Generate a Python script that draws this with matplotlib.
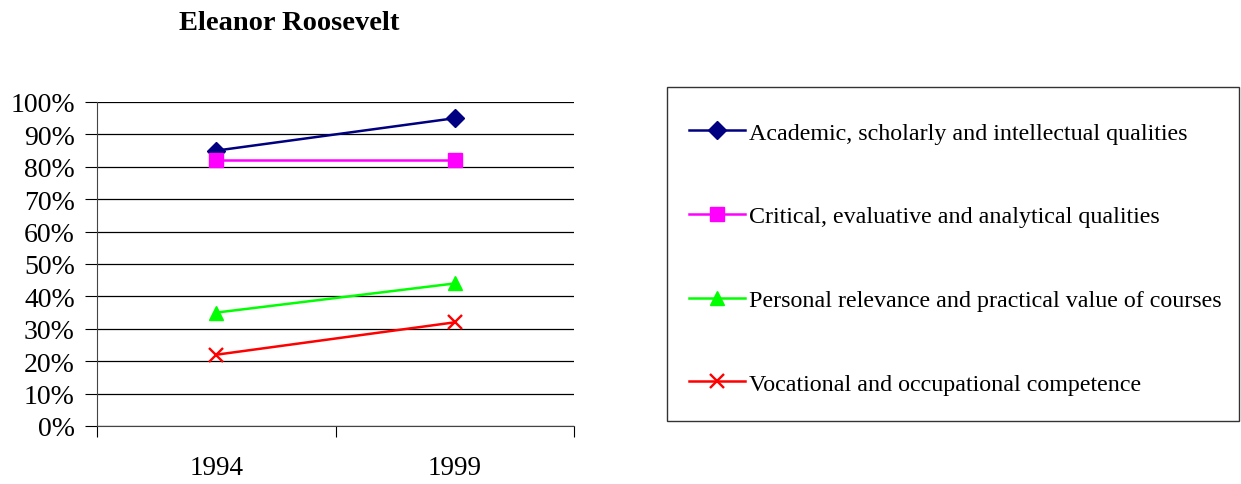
import matplotlib
matplotlib.use("Agg")
import matplotlib.pyplot as plt
from matplotlib.ticker import FixedLocator, PercentFormatter
from matplotlib.patches import Rectangle

years = ["1994", "1999"]
series_names = [
    "Academic, scholarly and intellectual qualities",
    "Critical, evaluative and analytical qualities",
    "Personal relevance and practical value of courses",
    "Vocational and occupational competence",
]
academic = [85, 95]
critical = [82, 82]
personal = [35, 44]
vocational = [22, 32]
yticks = list(range(0, 101, 10))

plt.rcParams['font.family'] = ['Liberation Serif', 'DejaVu Serif']

W, H = 1241, 485
fig = plt.figure(figsize=(W / 100, H / 100), dpi=100)
ax = fig.add_axes([97 / W, 1 - 427 / H, (574 - 97) / W, (427 - 103) / H])

xs = list(range(len(years)))
styles = [
    (academic, '#000080', 'D', 9.5),
    (critical, '#FF00FF', 's', 9.5),
    (personal, '#00FF00', '^', 10.5),
    (vocational, '#FF0000', 'x', 10.5),
]
handles = []
for (vals, color, mk, ms), name in zip(styles, series_names):
    h, = ax.plot(xs, vals, color=color, marker=mk, markersize=ms, linewidth=1.8,
                 markeredgewidth=1.7 if mk == 'x' else 1.0, markeredgecolor=color,
                 markerfacecolor=color, label=name, clip_on=False, zorder=3)
    handles.append(h)

ax.set_xlim(-0.5, len(years) - 0.5)
ax.set_ylim(0, 100)
ax.set_yticks(yticks)
ax.yaxis.set_major_formatter(PercentFormatter(decimals=0))
ax.grid(axis='y', color='black', linewidth=0.9)
ax.set_axisbelow(True)
ax.tick_params(axis='y', labelsize=20, length=9, width=0.8, pad=7)

ax.xaxis.set_major_locator(FixedLocator([-0.5, 0.5, 1.5]))
ax.xaxis.set_minor_locator(FixedLocator(xs))
ax.set_xticklabels([], minor=False)
ax.set_xticklabels(years, minor=True)
ax.tick_params(axis='x', which='major', length=8, width=0.8, direction='out')
ax.tick_params(axis='x', which='minor', length=0, labelsize=19.5, pad=21)

for s in ['top', 'right']:
    ax.spines[s].set_visible(False)
ax.spines['left'].set_linewidth(0.8)
ax.spines['bottom'].set_linewidth(0.8)
ax.spines['bottom'].set_color('#444444')
ax.spines['left'].set_color('#444444')

fig.text(289 / W, 1 - 23 / H, "Eleanor Roosevelt", ha='center', va='center',
         fontsize=20.5, fontweight='bold')

# legend frame
fig.patches.append(Rectangle((667 / W, 1 - 422 / H), (1239 - 667) / W, (422 - 88) / H,
                             transform=fig.transFigure, fill=False,
                             edgecolor='#333333', linewidth=1.0))

fs = 17.3
leg = fig.legend(handles=handles, labels=series_names,
                 loc='upper left', bbox_to_anchor=(689 / W, 1 - 123 / H),
                 fontsize=fs, frameon=False, borderaxespad=0, borderpad=0,
                 labelspacing=2.57, handlelength=2.33, handletextpad=0.17)

fig.savefig("out.png", dpi=100)
